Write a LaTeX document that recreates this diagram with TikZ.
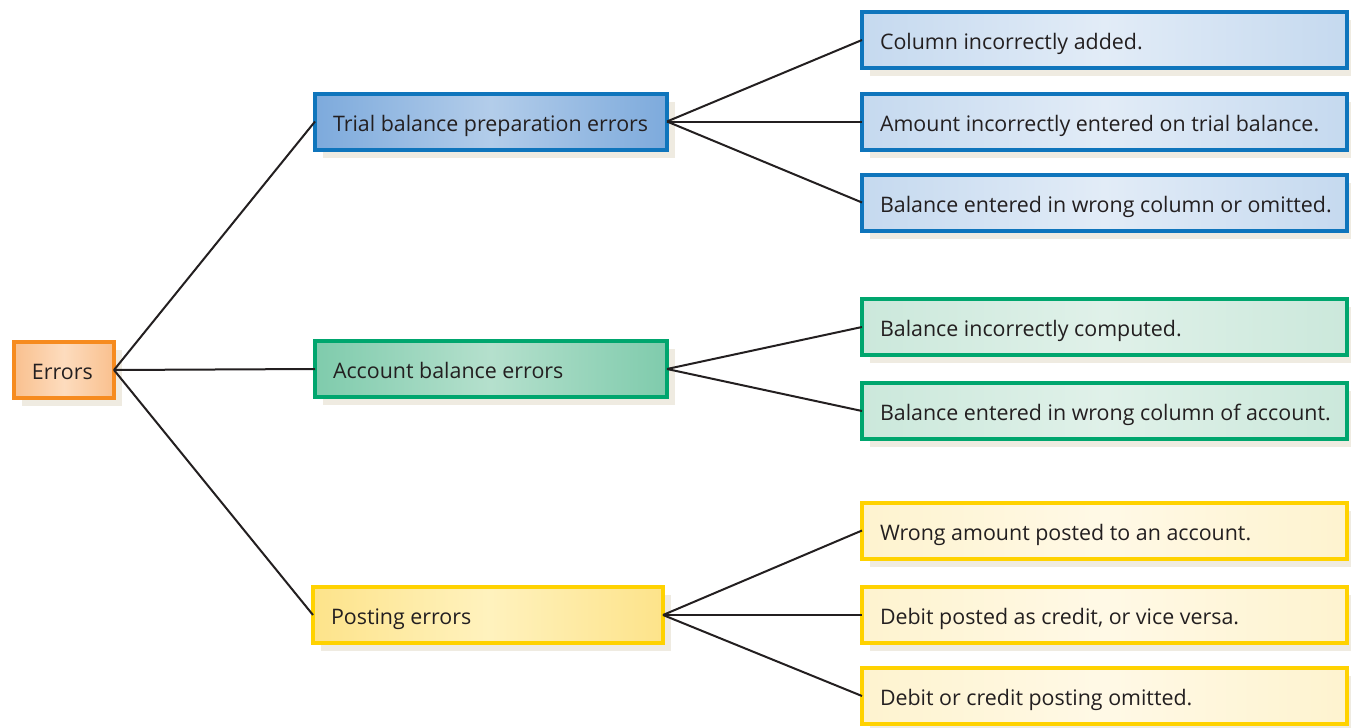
\documentclass[tikz,border=0pt]{standalone}
\usepackage{fontspec}
\setmainfont{Open Sans}
\usetikzlibrary{backgrounds}
\definecolor{txt}{HTML}{231F20}
\definecolor{shad}{HTML}{EFEBE1}
\definecolor{orB}{HTML}{F68B1F}\definecolor{orE}{HTML}{F9C08E}\definecolor{orM}{HTML}{FDDCBE}
\definecolor{blB}{HTML}{0F75BC}\definecolor{blE}{HTML}{7DAADC}\definecolor{blM}{HTML}{B3CDEA}
\definecolor{blrE}{HTML}{C5D9EF}\definecolor{blrM}{HTML}{E2ECF7}
\definecolor{grB}{HTML}{00A66E}\definecolor{grE}{HTML}{7FCBAC}\definecolor{grM}{HTML}{B5E0CD}
\definecolor{grrE}{HTML}{CBE8DB}\definecolor{grrM}{HTML}{E0F1E9}
\definecolor{ylB}{HTML}{FFD200}\definecolor{ylE}{HTML}{FDE38A}\definecolor{ylM}{HTML}{FFF2BE}
\definecolor{ylrE}{HTML}{FEF3CF}\definecolor{ylrM}{HTML}{FFF9E6}
\newcommand{\bxt}[2]{\makebox[#1][l]{\raisebox{-4.8pt}[0pt][0pt]{#2}}}
\begin{document}
\begin{tikzpicture}[x=0.5pt,y=-0.5pt,
  every node/.style={font=\fontsize{10.7pt}{12pt}\selectfont, text=txt},
  bx/.style={rectangle, line width=2pt, minimum height=28pt, inner xsep=9pt, inner ysep=0pt, outer sep=0pt},
  orb/.style={bx, draw=orB, left color=orE, right color=orE, middle color=orM},
  blb/.style={bx, draw=blB, left color=blE, right color=blE, middle color=blM},
  blr/.style={bx, draw=blB, left color=blrE, right color=blrE, middle color=blrM},
  grb/.style={bx, draw=grB, left color=grE, right color=grE, middle color=grM},
  grr/.style={bx, draw=grB, left color=grrE, right color=grrE, middle color=grrM},
  ylb/.style={bx, draw=ylB, left color=ylE, right color=ylE, middle color=ylM},
  ylr/.style={bx, draw=ylB, left color=ylrE, right color=ylrE, middle color=ylrM},
  conn/.style={draw=txt, line width=1pt}]
\useasboundingbox (0,0) rectangle (1351,728);
% main nodes
\node[orb, minimum width=50pt] (err) at (64,370) {\bxt{32pt}{Errors}};
\node[blb, minimum width=176pt] (tb) at (491,121.5) {\bxt{158pt}{Trial balance preparation errors}};
\node[grb, minimum width=176pt] (ab) at (491,369) {\bxt{158pt}{Account balance errors}};
\node[ylb, minimum width=175pt] (pe) at (488,615) {\bxt{157pt}{Posting errors}};
% right nodes
\node[blr, minimum width=242.5pt] (r1) at (1104.5,40) {\bxt{224.5pt}{Column incorrectly added.}};
\node[blr, minimum width=242.5pt] (r2) at (1104.5,121.5) {\bxt{224.5pt}{Amount incorrectly entered on trial balance.}};
\node[blr, minimum width=242.5pt] (r3) at (1104.5,202.5) {\bxt{224.5pt}{Balance entered in wrong column or omitted.}};
\node[grr, minimum width=242.5pt] (r4) at (1104.5,327) {\bxt{224.5pt}{Balance incorrectly computed.}};
\node[grr, minimum width=242.5pt] (r5) at (1104.5,411) {\bxt{224.5pt}{Balance entered in wrong column of account.}};
\node[ylr, minimum width=242.5pt] (r6) at (1104.5,530.5) {\bxt{224.5pt}{Wrong amount posted to an account.}};
\node[ylr, minimum width=242.5pt] (r7) at (1104.5,615) {\bxt{224.5pt}{Debit posted as credit, or vice versa.}};
\node[ylr, minimum width=242.5pt] (r8) at (1104.5,696) {\bxt{224.5pt}{Debit or credit posting omitted.}};
% shadows
\begin{scope}[on background layer]
\fill[white] (0,0) rectangle (1351,728);
\foreach \n in {err,tb,ab,pe,r1,r2,r3,r4,r5,r6,r7,r8}{
  \fill[shad] ([shift={(4pt,-4pt)}]\n.south west) rectangle ([shift={(4pt,-4pt)}]\n.north east);
}
\end{scope}
% connectors
\draw[conn] (err.east) -- (tb.west);
\draw[conn] (err.east) -- (ab.west);
\draw[conn] (err.east) -- (pe.west);
\draw[conn] (tb.east) -- (r1.west);
\draw[conn] (tb.east) -- (r2.west);
\draw[conn] (tb.east) -- (r3.west);
\draw[conn] (ab.east) -- (r4.west);
\draw[conn] (ab.east) -- (r5.west);
\draw[conn] (pe.east) -- (r6.west);
\draw[conn] (pe.east) -- (r7.west);
\draw[conn] (pe.east) -- (r8.west);
\end{tikzpicture}
\end{document}
